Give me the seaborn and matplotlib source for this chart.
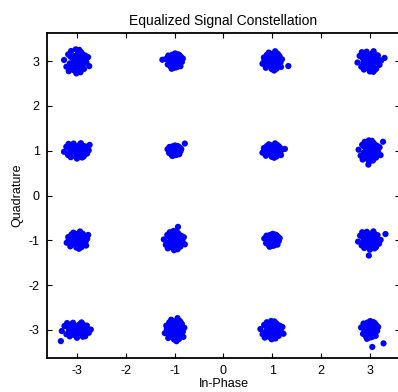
import numpy as np
import pandas as pd
import matplotlib
matplotlib.use("Agg")
import matplotlib.pyplot as plt
import seaborn as sns

# ---- data -------------------------------------------------------------
title = "Equalized Signal Constellation"
xlabel = "In-Phase"
ylabel = "Quadrature"
xticks = [-3, -2, -1, 0, 1, 2, 3]
yticks = [-3, -2, -1, 0, 1, 2, 3]

i_levels = [-3, -1, 1, 3]
q_levels = [3, 1, -1, -3]

# hand-read scatter shapes (offsets from the ideal symbol, data units)
pat_a_dx = [-0.22, -0.18, -0.15, -0.12, -0.10, -0.08, -0.06, -0.05, -0.03, -0.02, 0.00, 0.01,
            0.02, 0.03, 0.05, 0.06, 0.07, 0.08, 0.10, 0.12, 0.14, 0.16, 0.19, 0.21,
            -0.14, -0.09, -0.01, 0.04, 0.09, 0.13, -0.04, 0.00, 0.06, -0.11, 0.11, 0.02]
pat_a_dy = [0.02, -0.10, 0.12, -0.04, 0.18, 0.06, -0.16, 0.09, -0.07, 0.21, 0.03, -0.12,
            0.14, -0.02, 0.08, -0.20, 0.16, -0.06, 0.04, -0.14, 0.10, -0.02, 0.07, -0.09,
            -0.18, -0.12, -0.22, 0.20, 0.13, 0.01, 0.00, 0.10, -0.10, 0.08, -0.05, 0.05]

pat_b_dx = [-0.20, -0.17, -0.13, -0.11, -0.09, -0.07, -0.05, -0.04, -0.02, -0.01, 0.01, 0.02,
            0.04, 0.05, 0.07, 0.08, 0.10, 0.11, 0.13, 0.15, 0.17, 0.20, -0.16, -0.12,
            -0.06, 0.00, 0.03, 0.09, 0.14, -0.08, 0.06, -0.03, 0.12, -0.10, 0.01, 0.18]
pat_b_dy = [-0.06, 0.08, -0.15, 0.14, -0.02, 0.19, -0.10, 0.05, 0.16, -0.18, 0.09, -0.05,
            -0.21, 0.12, 0.00, -0.12, 0.17, 0.06, -0.08, 0.11, -0.03, 0.04, 0.01, -0.09,
            -0.01, 0.07, -0.14, -0.17, -0.11, 0.10, 0.22, -0.04, 0.15, 0.03, 0.13, -0.13]

pat_c_dx = [-0.18, -0.14, -0.12, -0.10, -0.08, -0.07, -0.05, -0.04, -0.03, -0.02, -0.01, 0.00,
            0.01, 0.02, 0.03, 0.04, 0.05, 0.06, 0.07, 0.08, 0.09, 0.11, 0.13, 0.15,
            0.17, -0.06, -0.09, 0.00, 0.10, -0.11, 0.04, -0.02, 0.12, 0.06, -0.13, 0.02]
pat_c_dy = [0.05, -0.08, 0.11, 0.00, -0.13, 0.07, 0.15, -0.04, -0.16, 0.09, 0.02, -0.10,
            0.18, -0.06, 0.12, -0.01, -0.14, 0.06, 0.16, -0.09, 0.03, -0.05, 0.10, -0.02,
            0.06, -0.18, 0.00, 0.04, 0.14, -0.03, -0.08, 0.08, -0.12, 0.01, 0.13, -0.15]

pat_d_dx = [-0.23, -0.19, -0.16, -0.13, -0.11, -0.09, -0.07, -0.06, -0.04, -0.03, -0.01, 0.00,
            0.02, 0.03, 0.05, 0.06, 0.08, 0.09, 0.11, 0.13, 0.15, 0.18, 0.21, -0.15,
            -0.05, 0.01, 0.07, 0.12, -0.10, 0.04, -0.02, 0.10, -0.08, 0.16, 0.00, -0.12]
pat_d_dy = [-0.03, 0.11, -0.12, 0.06, -0.18, 0.15, -0.07, 0.20, 0.02, -0.15, 0.09, -0.22,
            0.13, -0.05, 0.17, -0.11, 0.04, -0.19, 0.08, -0.02, 0.12, -0.08, 0.01, 0.19,
            -0.13, 0.06, 0.21, -0.16, 0.01, -0.01, 0.05, 0.14, -0.09, 0.03, -0.06, -0.03]

patterns = {"a": (pat_a_dx, pat_a_dy), "b": (pat_b_dx, pat_b_dy),
            "c": (pat_c_dx, pat_c_dy), "d": (pat_d_dx, pat_d_dy)}

# per-cluster shape choice, read row by row (Q = 3, 1, -1, -3; I = -3, -1, 1, 3)
cluster_pattern = ["a", "c", "b", "d",
                   "d", "c", "b", "a",
                   "b", "a", "c", "d",
                   "d", "b", "a", "c"]
cluster_sx = [1.20, 1.00, 1.00, 1.10,
              1.15, 0.80, 1.00, 1.05,
              1.05, 1.00, 0.90, 1.05,
              1.35, 1.00, 1.10, 1.00]
cluster_sy = [1.25, 0.95, 1.00, 1.05,
              0.80, 0.65, 0.75, 1.10,
              0.90, 1.00, 0.80, 0.95,
              0.80, 1.20, 0.95, 1.10]

# stray points seen around some symbols
outlier_x = [-1.25, 1.33, 3.30, 3.07, -2.74, -0.79, 1.26, 2.97, 3.27,
             -2.77, -0.93, 3.32, 2.98, -2.83, -3.33, 3.28, 3.05]
outlier_y = [3.03, 2.89, 3.07, 2.76, 1.13, 1.16, 1.04, 0.69, 1.20,
             -0.88, -0.70, -0.86, -1.34, -3.14, -3.25, -3.30, -3.38]

# ---- build table ------------------------------------------------------
xs, ys = [], []
k = 0
for q in q_levels:
    for i in i_levels:
        dx, dy = patterns[cluster_pattern[k]]
        xs.extend(i + cluster_sx[k] * np.array(dx))
        ys.extend(q + cluster_sy[k] * np.array(dy))
        k += 1
xs.extend(outlier_x)
ys.extend(outlier_y)
df = pd.DataFrame({"I": xs, "Q": ys})

# ---- plot -------------------------------------------------------------
sns.set_style("white")
plt.rcParams["font.family"] = ["Liberation Sans", "DejaVu Sans"]
plt.rcParams["text.color"] = "black"
plt.rcParams["axes.labelcolor"] = "black"

fig = plt.figure(figsize=(3.98, 3.92), dpi=100)
ax = fig.add_axes([0.1173, 0.0875, 0.888, 0.8275])

sns.scatterplot(data=df, x="I", y="Q", ax=ax, color=(0, 0, 1), s=20,
                linewidth=0, edgecolor="none", legend=False)

ax.set_xlim(-3.62, 3.62)
ax.set_ylim(-3.62, 3.62)
ax.set_xticks(xticks)
ax.set_yticks(yticks)
ax.set_xticklabels([str(t) for t in xticks], fontsize=9)
ax.set_yticklabels([str(t) for t in yticks], fontsize=9)
ax.tick_params(direction="in", length=3.5, width=0.8, top=True, right=True,
               bottom=True, left=True, colors="black", pad=5)
for sp in ax.spines.values():
    sp.set_visible(True)
    sp.set_color("black")
    sp.set_linewidth(1.3)

ax.set_title(title, fontsize=10, pad=6, color="black")
ax.set_xlabel(xlabel, fontsize=9, labelpad=1, color="black")
ax.set_ylabel(ylabel, fontsize=9, labelpad=4, color="black")

fig.savefig("out.png", dpi=100)
